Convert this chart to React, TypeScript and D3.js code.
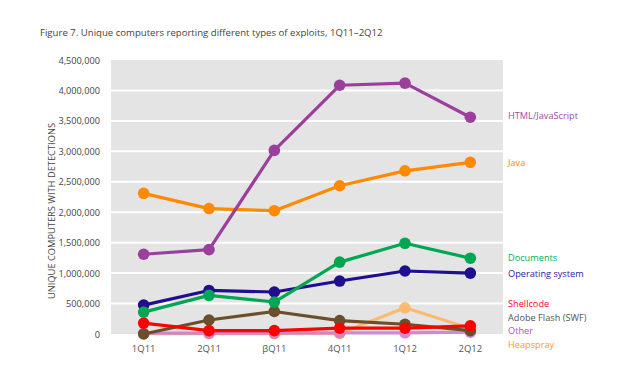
import React from "react";
import * as d3 from "d3";

const categories = ["1Q11", "2Q11", "βQ11", "4Q11", "1Q12", "2Q12"];
const yTicks = [0, 500000, 1000000, 1500000, 2000000, 2500000, 3000000, 3500000, 4000000, 4500000];

const heapspray = [5000, 5000, 5000, 10000, 430000, 90000];
const other = [15000, 15000, 15000, 20000, 20000, 30000];
const flash = [0, 230000, 370000, 220000, 160000, 55000];
const shellcode = [180000, 55000, 55000, 95000, 95000, 135000];
const osys = [475000, 715000, 690000, 870000, 1035000, 1000000];
const documents = [360000, 635000, 525000, 1180000, 1490000, 1245000];
const java = [2310000, 2060000, 2025000, 2435000, 2680000, 2820000];
const htmljs = [1310000, 1385000, 3015000, 4085000, 4120000, 3560000];

const seriesNames = ["Heapspray", "Other", "Adobe Flash (SWF)", "Shellcode", "Operating system", "Documents", "Java", "HTML/JavaScript"];
const seriesValues = [heapspray, other, flash, shellcode, osys, documents, java, htmljs];
const seriesColors = ["#ffb55e", "#cf7fcf", "#6b4f2c", "#ff0000", "#1f0f8f", "#00a651", "#ff8a00", "#9c3f9c"];
const seriesOpacity = [0.85, 0.9, 1, 1, 1, 1, 1, 1];
const legendY = [344, 330, 317, 303, 273, 257, 162, 115];
const legendColors = ["#ff9a1a", "#b24fb2", "#555555", "#ff0033", "#2a1aa8", "#00b050", "#ff8a00", "#a04aa8"];

const FONT = "'Open Sans', 'Noto Sans', sans-serif";

export default function App() {
  const W = 640, H = 371;
  const left = 111, right = 503, top = 60, bottom = 334;
  const x = d3.scalePoint<string>().domain(categories).range([left, right]).padding(0.5);
  const y = d3.scaleLinear().domain([0, 4500000]).range([bottom, top]);
  const line = d3.line<number>().x((_, i) => x(categories[i])!).y((v) => y(v));
  const fmt = d3.format(",");

  return (
    <svg width={W} height={H} style={{ position: "absolute", left: 0, top: 0, background: "#fff" }} fontFamily={FONT}>
      <text x={40} y={36} fontSize={9.6} fill="#444">
        Figure 7. Unique computers reporting different types of exploits, 1Q11–2Q12
      </text>
      <rect x={left} y={top} width={right - left} height={bottom - top} fill="#e4e4e4" />
      {yTicks.slice(1, -1).map((t) => (
        <line key={t} x1={left} x2={right} y1={y(t)} y2={y(t)} stroke="#fff" strokeWidth={2} />
      ))}
      {yTicks.map((t) => (
        <text key={t} x={100} y={y(t) + 3.5} fontSize={9.2} fill="#444" textAnchor="end">
          {fmt(t)}
        </text>
      ))}
      <text
        transform={`translate(55,${(top + bottom) / 2 + 14}) rotate(-90)`}
        fontSize={9.3}
        fill="#444"
        textAnchor="middle"
      >
        UNIQUE COMPUTERS WITH DETECTIONS
      </text>
      {categories.map((c) => (
        <text key={c} x={x(c)} y={352} fontSize={9.5} fill="#555" textAnchor="middle">
          {c}
        </text>
      ))}
      {seriesValues.map((vals, si) => (
        <g key={seriesNames[si]} opacity={seriesOpacity[si]}>
          <path d={line(vals)!} fill="none" stroke={seriesColors[si]} strokeWidth={3.2} strokeLinejoin="round" />
          {vals.map((v, i) => (
            <circle key={i} cx={x(categories[i])} cy={y(v)} r={5.8} fill={seriesColors[si]} />
          ))}
        </g>
      ))}
      {seriesNames.map((n, si) => (
        <text key={n} x={508} y={legendY[si] + 3.5} fontSize={9.2} fill={legendColors[si]}>
          {n}
        </text>
      ))}
    </svg>
  );
}
